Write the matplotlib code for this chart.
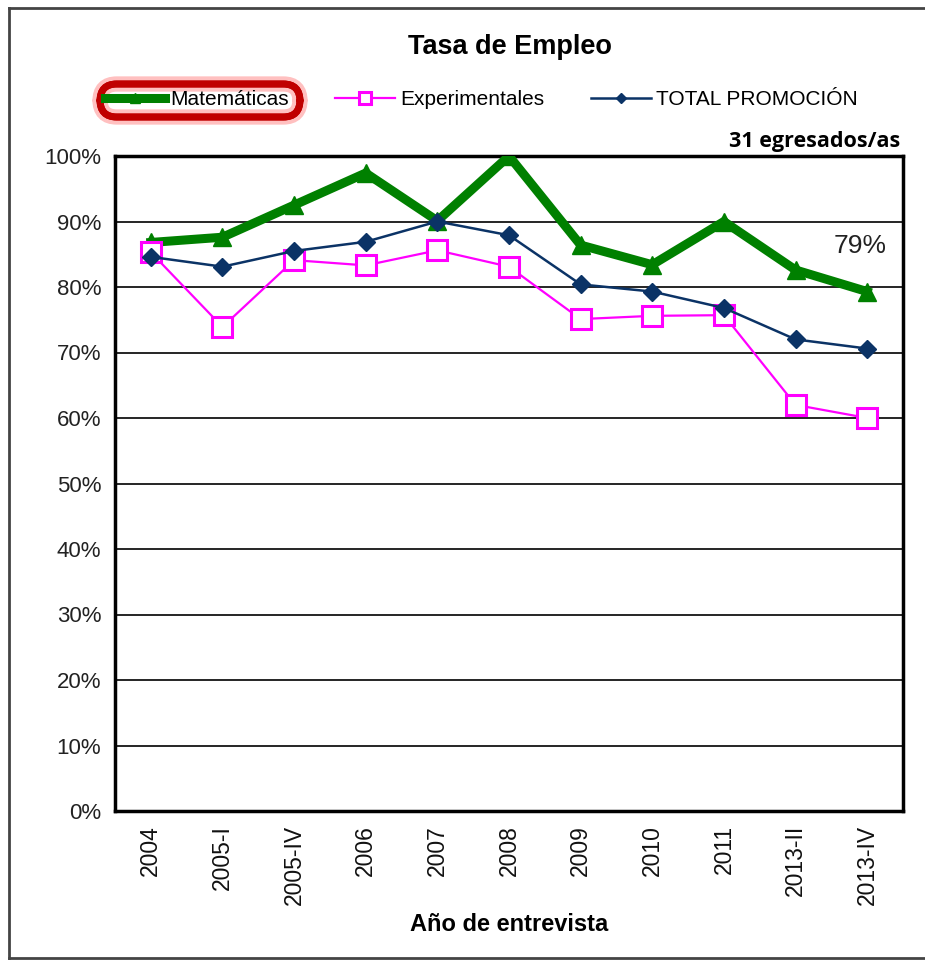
import matplotlib
matplotlib.use("Agg")
import matplotlib.pyplot as plt
from matplotlib.patches import FancyBboxPatch
from matplotlib.lines import Line2D
import matplotlib.patheffects as pe

YEARS = ["2004", "2005-I", "2005-IV", "2006", "2007", "2008",
         "2009", "2010", "2011", "2013-II", "2013-IV"]

MATEMATICAS = [86.8, 87.6, 92.5, 97.4, 90.1, 100.0, 86.4, 83.4, 90.0, 82.6, 79.3]
EXPERIMENTALES = [85.3, 73.9, 84.1, 83.3, 85.6, 83.1, 75.1, 75.6, 75.7, 62.0, 60.0]
TOTAL = [84.6, 83.1, 85.5, 86.9, 90.0, 87.9, 80.4, 79.3, 76.8, 72.0, 70.6]

plt.rcParams["font.family"] = ["Liberation Sans", "DejaVu Sans"]

fig = plt.figure(figsize=(9.25, 9.6), dpi=100)
ax = fig.add_axes([115 / 925, 1 - 811 / 960, 788 / 925, 655 / 960])

x = [i + 0.5 for i in range(len(YEARS))]
ax.plot(x, MATEMATICAS, color="#008000", lw=6.5, marker="^", ms=13,
        zorder=3, label="Matemáticas")
ax.plot(x, EXPERIMENTALES, color="#ff00ff", lw=1.6, marker="s", ms=15,
        mfc="white", mec="#ff00ff", mew=2.2, zorder=4, label="Experimentales")
ax.plot(x, TOTAL, color="#0b3366", lw=1.8, marker="D", ms=9,
        mfc="#0b3366", mec="#0b3366", zorder=5, label="TOTAL PROMOCIÓN")

ax.set_xlim(0, len(YEARS))
ax.set_ylim(0, 100)
ax.set_yticks(range(0, 101, 10))
ax.set_yticklabels([f"{v}%" for v in range(0, 101, 10)], fontsize=16,
                   color="#222222")
ax.set_xticks(x)
ax.set_xticklabels(YEARS, rotation=90, fontsize=16.5, color="#111111")
ax.tick_params(length=0, pad=10)
ax.yaxis.grid(True, color="black", lw=1.2)
ax.set_axisbelow(True)
for s in ax.spines.values():
    s.set_linewidth(2.5)

ax.set_xlabel("Año de entrevista", fontsize=17, fontweight="bold",
              labelpad=6)
fig.text(510 / 925, 1 - 47 / 960, "Tasa de Empleo", fontsize=19.5,
         fontweight="bold", ha="center", va="center")
fig.text(900 / 925, 1 - 142 / 960, "31 egresados/as", fontsize=15.5,
         fontweight="bold", ha="right", va="center", family="Open Sans")
ax.text(10.4, 86.2, "79%", fontsize=19, ha="center", va="center",
        color="#222222")

ax.legend(loc="center left", bbox_to_anchor=(-0.0127, 1.0855), ncol=3,
          frameon=False, fontsize=15, handlelength=2.9, columnspacing=2.2,
          handletextpad=0.25, borderaxespad=0, borderpad=0,
          markerscale=0.55)

# red rounded highlight around the first legend entry
box = FancyBboxPatch((100 / 925, 1 - 117 / 960), 200 / 925, 33 / 960,
                     boxstyle="round,pad=0,rounding_size=0.018",
                     transform=fig.transFigure, fill=False,
                     edgecolor="#c00000", lw=5, zorder=-1,
                     path_effects=[pe.withStroke(linewidth=11,
                                                 foreground="#ffc0c0"),
                                   pe.Normal()])
fig.patches.append(box)

# outer frame
for xs, ys in [([9 / 925, 9 / 925], [1 - 958 / 960, 1 - 8 / 960]),
               ([9 / 925, 1], [1 - 8 / 960, 1 - 8 / 960]),
               ([9 / 925, 1], [1 - 958 / 960, 1 - 958 / 960])]:
    fig.add_artist(Line2D(xs, ys, color="#444444", lw=2,
                          transform=fig.transFigure))

fig.savefig("out.png", dpi=100)
